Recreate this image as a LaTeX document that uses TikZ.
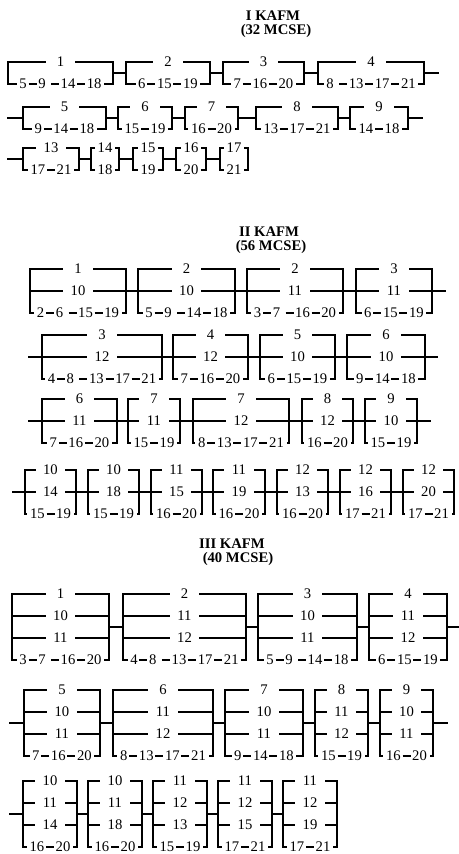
\documentclass[tikz,border=0pt]{standalone}
\usepackage{fontspec}
\setmainfont{Liberation Serif}
\tikzset{
    wire/.style={line width=1.5pt, line cap=rect},
    blockbox/.style={rectangle, inner sep=0pt, outer sep=0pt},
    lbl/.style={fill=white, inner xsep=2pt, inner ysep=1pt, minimum width=22pt, font=\fontsize{11}{13}\selectfont},
    title/.style={font=\fontsize{11}{13}\selectfont\bfseries, inner sep=0pt},
}
\newcommand{\branchgap}{22}
\newcommand{\dsh}{\hspace{1.3pt}\rule[\dimexpr0.34em-0.75pt\relax]{6pt}{1.5pt}\hspace{1.3pt}}
% \pblock[label options]{name}{x left}{x right}{y top}{branch labels}
\newcommand{\pblock}[6][]{%
    \foreach \bl [count=\cnt] in {#6} {\xdef\nbr{\cnt}}
    \pgfmathsetmacro{\hgt}{(\nbr-1)*\branchgap}
    \node[blockbox, minimum width={(#4-#3)*0.75pt}, minimum height={\hgt*0.75pt}] (#2) at ({(#3+#4)/2},{#5+\hgt/2}) {};
    \foreach \bl [count=\idx] in {#6} {
        \pgfmathsetmacro{\yb}{#5+(\idx-1)*\branchgap}
        \draw[wire] (#3,\yb) -- (#4,\yb);
        \node[lbl, #1] (#2-\idx) at ({(#3+#4)/2},\yb) {\bl};
    }
    \draw[wire] (#2.north west) -- (#2.south west);
    \draw[wire] (#2.north east) -- (#2.south east);
}

\begin{document}
\begin{tikzpicture}[x=0.75pt, y=-0.75pt]
    \useasboundingbox (0,0) rectangle (458,854);

    \node[title] (t1) at (273,16) {I KAFM};
    \node[title] (t1n) at (276,31) {(32 MCSE)};

    \pblock{a1}{8}{113}{62}{1,5\dsh9\ \dsh14\dsh18}
    \pblock{a2}{126}{210}{62}{2,6\dsh15\dsh19}
    \pblock{a3}{223}{304}{62}{3,7\dsh16\dsh20}
    \pblock{a4}{318}{424}{62}{4,8\ \dsh13\dsh17\dsh21}
    \pblock{a5}{23}{106}{107}{5,9\dsh14\dsh18}
    \pblock{a6}{118}{172}{107}{6,15\dsh19}
    \pblock{a7}{185}{238}{107}{7,16\dsh20}
    \pblock{a8}{256}{338}{107}{8,13\dsh17\dsh21}
    \pblock{a9}{350}{408}{107}{9,14\dsh18}
    \pblock{a13}{23}{79}{148}{13,17\dsh21}
    \pblock[minimum width=0pt]{a14}{91}{119}{148}{14,18}
    \pblock[minimum width=0pt]{a15}{133}{163}{148}{15,19}
    \pblock[minimum width=0pt]{a16}{176}{206}{148}{16,20}
    \pblock[minimum width=0pt]{a17}{220}{248}{148}{17,21}

    \coordinate (outA1) at (438,0 |- a4.east);
    \coordinate (inA2) at (8,0 |- a5.west);
    \coordinate (outA2) at (422,0 |- a9.east);
    \coordinate (inA3) at (8,0 |- a13.west);

    \draw[wire] (a1.east) -- (a2.west);
    \draw[wire] (a2.east) -- (a3.west);
    \draw[wire] (a3.east) -- (a4.west);
    \draw[wire] (a4.east) -- (outA1);
    \draw[wire] (inA2) -- (a5.west);
    \draw[wire] (a5.east) -- (a6.west);
    \draw[wire] (a6.east) -- (a7.west);
    \draw[wire] (a7.east) -- (a8.west);
    \draw[wire] (a8.east) -- (a9.west);
    \draw[wire] (a9.east) -- (outA2);
    \draw[wire] (inA3) -- (a13.west);
    \draw[wire] (a13.east) -- (a14.west);
    \draw[wire] (a14.east) -- (a15.west);
    \draw[wire] (a15.east) -- (a16.west);
    \draw[wire] (a16.east) -- (a17.west);

    \node[title] (t2) at (269,232) {II KAFM};
    \node[title] (t2n) at (271,247) {(56 MCSE)};

    \pblock{b1}{30}{126}{269}{1,10,2\dsh6\ \dsh15\dsh19}
    \pblock{b2}{138}{235}{269}{2,10,5\dsh9\ \dsh14\dsh18}
    \pblock{b3}{247}{343}{269}{2,11,3\dsh7\ \dsh16\dsh20}
    \pblock{b4}{356}{432}{269}{3,11,6\dsh15\dsh19}
    \pblock{b5}{42}{162}{335}{3,12,4\dsh8\ \dsh13\dsh17\dsh21}
    \pblock{b6}{173}{248}{335}{4,12,7\dsh16\dsh20}
    \pblock{b7}{260}{335}{335}{5,10,6\dsh15\dsh19}
    \pblock{b8}{347}{425}{335}{6,10,9\dsh14\dsh18}
    \pblock{b9}{42}{117}{399}{6,11,7\dsh16\dsh20}
    \pblock{b10}{128}{180}{399}{7,11,15\dsh19}
    \pblock{b11}{193}{289}{399}{7,12,8\dsh13\dsh17\dsh21}
    \pblock{b12}{302}{353}{399}{8,12,16\dsh20}
    \pblock{b13}{365}{417}{399}{9,10,15\dsh19}
    \pblock{b14}{25}{76}{470}{10,14,15\dsh19}
    \pblock{b15}{88}{139}{470}{10,18,15\dsh19}
    \pblock{b16}{151}{202}{470}{11,15,16\dsh20}
    \pblock{b17}{213}{265}{470}{11,19,16\dsh20}
    \pblock{b18}{277}{328}{470}{12,13,16\dsh20}
    \pblock{b19}{340}{391}{470}{12,16,17\dsh21}
    \pblock{b20}{403}{454}{470}{12,20,17\dsh21}

    \coordinate (outB1) at (445,0 |- b4.east);
    \coordinate (inB2) at (29,0 |- b5.west);
    \coordinate (outB2) at (437,0 |- b8.east);
    \coordinate (inB3) at (29,0 |- b9.west);
    \coordinate (outB3) at (430,0 |- b13.east);
    \coordinate (inB4) at (13,0 |- b14.west);

    \draw[wire] (b1.east) -- (b2.west);
    \draw[wire] (b2.east) -- (b3.west);
    \draw[wire] (b3.east) -- (b4.west);
    \draw[wire] (b4.east) -- (outB1);
    \draw[wire] (inB2) -- (b5.west);
    \draw[wire] (b5.east) -- (b6.west);
    \draw[wire] (b6.east) -- (b7.west);
    \draw[wire] (b7.east) -- (b8.west);
    \draw[wire] (b8.east) -- (outB2);
    \draw[wire] (inB3) -- (b9.west);
    \draw[wire] (b9.east) -- (b10.west);
    \draw[wire] (b10.east) -- (b11.west);
    \draw[wire] (b11.east) -- (b12.west);
    \draw[wire] (b12.east) -- (b13.west);
    \draw[wire] (b13.east) -- (outB3);
    \draw[wire] (inB4) -- (b14.west);
    \draw[wire] (b14.east) -- (b15.west);
    \draw[wire] (b15.east) -- (b16.west);
    \draw[wire] (b16.east) -- (b17.west);
    \draw[wire] (b17.east) -- (b18.west);
    \draw[wire] (b18.east) -- (b19.west);
    \draw[wire] (b19.east) -- (b20.west);

    \node[title] (t3) at (232,544) {III KAFM};
    \node[title] (t3n) at (238,559) {(40 MCSE)};

    \pblock{c1}{12}{109}{594}{1,10,11,3\dsh7\ \dsh16\dsh20}
    \pblock{c2}{123}{246}{594}{2,11,12,4\dsh8\ \dsh13\dsh17\dsh21}
    \pblock{c3}{258}{357}{594}{3,10,11,5\dsh9\ \dsh14\dsh18}
    \pblock{c4}{369}{447}{594}{4,11,12,6\dsh15\dsh19}
    \pblock{c5}{24}{100}{690}{5,10,11,7\dsh16\dsh20}
    \pblock{c6}{113}{213}{690}{6,11,12,8\dsh13\dsh17\dsh21}
    \pblock{c7}{225}{303}{690}{7,10,11,9\dsh14\dsh18}
    \pblock{c8}{315}{368}{690}{8,11,12,15\dsh19}
    \pblock{c9}{380}{433}{690}{9,10,11,16\dsh20}
    \pblock{c10}{23}{77}{781}{10,11,14,16\dsh20}
    \pblock{c11}{88}{142}{781}{10,11,18,16\dsh20}
    \pblock{c12}{153}{207}{781}{11,12,13,15\dsh19}
    \pblock{c13}{218}{272}{781}{11,12,15,17\dsh21}
    \pblock{c14}{283}{337}{781}{11,12,19,17\dsh21}

    \coordinate (outC1) at (458,0 |- c4.east);
    \coordinate (inC2) at (10,0 |- c5.west);
    \coordinate (outC2) at (447,0 |- c9.east);
    \coordinate (inC3) at (10,0 |- c10.west);

    \draw[wire] (c1.east) -- (c2.west);
    \draw[wire] (c2.east) -- (c3.west);
    \draw[wire] (c3.east) -- (c4.west);
    \draw[wire] (c4.east) -- (outC1);
    \draw[wire] (inC2) -- (c5.west);
    \draw[wire] (c5.east) -- (c6.west);
    \draw[wire] (c6.east) -- (c7.west);
    \draw[wire] (c7.east) -- (c8.west);
    \draw[wire] (c8.east) -- (c9.west);
    \draw[wire] (c9.east) -- (outC2);
    \draw[wire] (inC3) -- (c10.west);
    \draw[wire] (c10.east) -- (c11.west);
    \draw[wire] (c11.east) -- (c12.west);
    \draw[wire] (c12.east) -- (c13.west);
    \draw[wire] (c13.east) -- (c14.west);
\end{tikzpicture}
\end{document}
